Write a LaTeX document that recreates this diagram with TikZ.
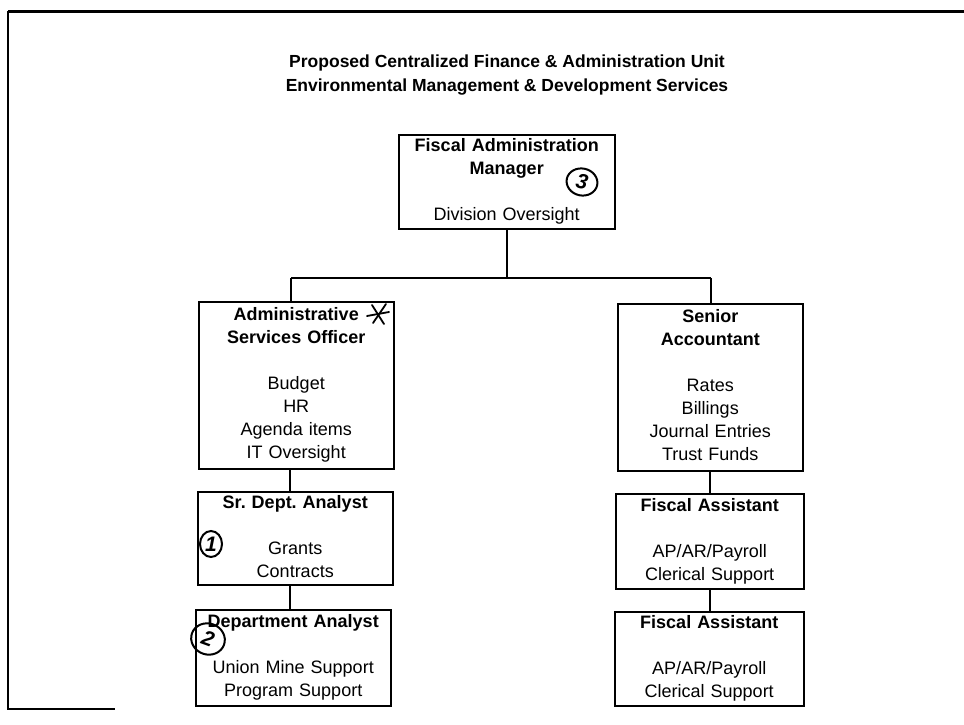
\documentclass[tikz,border=0pt]{standalone}
\usepackage{fontspec}
\setmainfont{Liberation Sans}
\usetikzlibrary{shapes.geometric}
\begin{document}
\frenchspacing
\begin{tikzpicture}[x=1pt,y=-1pt,
  orgbox/.style={draw=black, line width=1.5pt, inner sep=0pt, align=center,
    font=\fontsize{18}{23}\selectfont, anchor=north west},
  link/.style={draw=black, line width=1.6pt},
  handring/.style={draw=black, ellipse, line width=2pt, inner sep=0pt,
    font=\bfseries\itshape\fontsize{21}{21}\selectfont},
  handline/.style={draw=black, line width=1.8pt, line cap=round},
  frameline/.style={draw=black, line width=2pt}]
\useasboundingbox (0,0) rectangle (964,725);
\fill[white] (0,0) rectangle (964,725);

% frame (scanned page border)
\draw[frameline, line width=3pt] (964,12) -- (8,12);
\draw[frameline] (8,11) -- (8,709) -- (115,709);

% title
\node[font=\bfseries\fontsize{17.5}{24}\selectfont, align=center] (title) at (507,75)
  {Proposed Centralized Finance \& Administration Unit\\Environmental Management \& Development Services};

% boxes
\node[orgbox, text width=216pt, minimum height=94pt] (top) at (398,134)
  {\strut\textbf{Fiscal Administration}\\ \textbf{Manager}\\ \strut\\ Division Oversight\strut};
\node[orgbox, text width=195pt, minimum height=167pt] (aso) at (198,301)
  {\strut\textbf{Administrative}\\ \textbf{Services Officer}\\ \strut\\ Budget\\ HR\\ Agenda items\\ IT Oversight\strut};
\node[orgbox, text width=185pt, minimum height=167pt] (sa) at (617,303)
  {\strut\textbf{Senior}\\ \textbf{Accountant}\\ \strut\\ Rates\\ Billings\\ Journal Entries\\ Trust Funds\strut};
\node[orgbox, text width=195pt, minimum height=93pt] (sda) at (197,491)
  {\strut\textbf{Sr. Dept. Analyst}\\ \strut\\ Grants\\ Contracts\strut};
\node[orgbox, text width=195pt, minimum height=96pt] (da) at (195,609)
  {\strut\textbf{Department Analyst}\\ \strut\\ Union Mine Support\\ Program Support\strut};
\node[orgbox, text width=188pt, minimum height=95pt] (fa1) at (615,493)
  {\strut\textbf{Fiscal Assistant}\\ \strut\\ AP/AR/Payroll\\ Clerical Support\strut};
\node[orgbox, text width=189pt, minimum height=94pt] (fa2) at (614,611)
  {\strut\textbf{Fiscal Assistant}\\ \strut\\ AP/AR/Payroll\\ Clerical Support\strut};

% connectors
\coordinate (busL) at (291,278);
\coordinate (busR) at (711,278);
\coordinate (colL) at (290,0);
\coordinate (colR) at (710,0);
\draw[link] (top.south) -- (top.south |- busL);
\draw[link] (busL) -- (busR);
\draw[link] (busL) -- (busL |- aso.north);
\draw[link] (busR) -- (busR |- sa.north);
\draw[link] (aso.south -| colL) -- (sda.north -| colL);
\draw[link] (sda.south -| colL) -- (da.north -| colL);
\draw[link] (sa.south -| colR) -- (fa1.north -| colR);
\draw[link] (fa1.south -| colR) -- (fa2.north -| colR);

% handwritten marks
\node[handring, minimum width=31pt, minimum height=27pt, rotate=-12] (m3) at (582,182) {3};
\node[handring, minimum width=22pt, minimum height=26pt] (m1) at (211,544) {1};
\node[handring, minimum width=34pt, minimum height=31pt, rotate=-20] (m2) at (208,639) {2};
\draw[handline] (367,316) -- (389,312);
\draw[handline] (372,305) -- (384,324);
\draw[handline] (386,304) -- (373,323);
\end{tikzpicture}
\end{document}
